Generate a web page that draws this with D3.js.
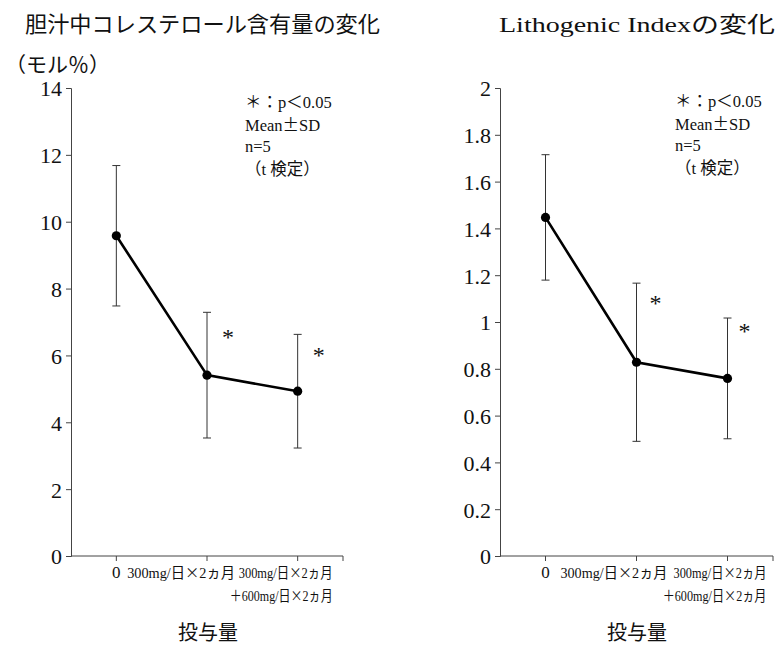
<!DOCTYPE html>
<html><head><meta charset="utf-8">
<script src="https://cdn.jsdelivr.net/npm/d3@7"></script>
<style>
html,body{margin:0;padding:0;background:#fff;}
svg text{font-family:"Liberation Serif","Noto Sans CJK JP",serif;fill:#111;}
</style></head>
<body><svg id="c" width="777" height="646"></svg>
<script>
// ---- data ----
const categories = ["0", "300mg/日×2ヵ月", "300mg/日×2ヵ月|＋600mg/日×2ヵ月"];
const cholMean = [9.58, 5.41, 4.93];
const cholSD = [2.1, 1.88, 1.7];
const cholTicks = [0, 2, 4, 6, 8, 10, 12, 14];
const cholStarY = [null, 6.67, 6.13];
const lithoMean = [1.447, 0.828, 0.759];
const lithoSD = [0.268, 0.338, 0.258];
const lithoTicks = [0, 0.2, 0.4, 0.6, 0.8, 1, 1.2, 1.4, 1.6, 1.8, 2];
const lithoStarY = [null, 1.098, 0.979];
const legendLines = ["＊：p＜0.05", "Mean±SD", "n=5", "（t 検定）"];
const xTitle = "投与量";

const svg = d3.select("#c");

// put non-ASCII characters into the CJK font so they render full-width
function richText(sel, str) {
  const runs = [];
  for (const ch of str) {
    const cjk = ch.charCodeAt(0) > 127;
    if (runs.length && runs[runs.length - 1].cjk === cjk) runs[runs.length - 1].t += ch;
    else runs.push({ cjk, t: ch });
  }
  runs.forEach(r => {
    const ts = sel.append("tspan").text(r.t);
    if (r.cjk) ts.style("font-family", '"Noto Sans CJK JP", sans-serif');
  });
  return sel;
}

function panel(o) {
  const g = svg.append("g");
  const x = d3.scalePoint().domain(categories).range([o.x0, o.x1]).padding(0.5);
  const y = d3.scaleLinear().domain([0, o.ticks[o.ticks.length - 1]]).range([556, 88]);

  // y axis
  const ya = g.append("g").attr("transform", `translate(${o.x0},0)`)
    .call(d3.axisLeft(y).tickValues(o.ticks).tickSize(5).tickPadding(4).tickFormat(d3.format("")));
  ya.select(".domain").attr("stroke", "#444");
  ya.selectAll(".tick line").attr("stroke", "#444");
  ya.selectAll(".tick text").style("font-size", "22px").attr("fill", "#111").attr("dy", "0.36em");

  // x axis
  const xa = g.append("g").attr("transform", `translate(0,556)`);
  xa.append("line").attr("x1", o.x0).attr("x2", o.x1).attr("stroke", "#444");
  const tickXs = categories.map(c => x(c)).concat([o.x1]);
  xa.selectAll("line.t").data(tickXs).enter().append("line").attr("class", "t")
    .attr("x1", d => d).attr("x2", d => d).attr("y1", 0).attr("y2", 5).attr("stroke", "#444");

  // category labels (condensed horizontally to the reference widths)
  const labG = g.append("g");
  categories.forEach((c, i) => {
    const parts = c.split("|");
    parts.forEach((p, j) => {
      if (i === 0) {
        labG.append("text").attr("x", x(c)).attr("y", 578).attr("text-anchor", "middle")
          .style("font-size", "17px").text(p);
      } else {
        const len = o.labLen[i][j];
        const t = labG.append("text").attr("x", 0).attr("y", 0).attr("text-anchor", "end")
          .style("font-size", "14.5px");
        richText(t, p);
        const w = t.node().getComputedTextLength();
        const sx = w > 0 ? len / w : 1;
        t.attr("transform", `translate(${x(c) + o.labShift[i]},${578 + j * 23}) scale(${sx.toFixed(3)},1)`);
      }
    });
  });

  // axis title
  g.append("text").attr("x", o.xTitleX).attr("y", 640).attr("text-anchor", "middle")
    .style("font-size", "20px").text(xTitle);

  // error bars
  const eb = g.append("g").attr("stroke", "#333").attr("stroke-width", 1);
  o.mean.forEach((m, i) => {
    const cx = x(categories[i]);
    eb.append("line").attr("x1", cx).attr("x2", cx).attr("y1", y(m - o.sd[i])).attr("y2", y(m + o.sd[i]));
    eb.append("line").attr("x1", cx - 4).attr("x2", cx + 4).attr("y1", y(m + o.sd[i])).attr("y2", y(m + o.sd[i]));
    eb.append("line").attr("x1", cx - 4).attr("x2", cx + 4).attr("y1", y(m - o.sd[i])).attr("y2", y(m - o.sd[i]));
  });

  // line
  g.append("path").datum(o.mean)
    .attr("d", d3.line().x((d, i) => x(categories[i])).y(d => y(d)))
    .attr("fill", "none").attr("stroke", "#000").attr("stroke-width", 2.6);
  g.selectAll("circle.p").data(o.mean).enter().append("circle")
    .attr("cx", (d, i) => x(categories[i])).attr("cy", d => y(d)).attr("r", 4.6).attr("fill", "#000");

  // significance stars
  o.star.forEach((s, i) => {
    if (s == null) return;
    g.append("text").attr("x", x(categories[i]) + o.starDx[i]).attr("y", y(s))
      .attr("dy", "0.5em").attr("text-anchor", "middle").style("font-size", "24px").attr("fill", "#444").text("*");
  });

  // legend
  legendLines.forEach((t, i) => {
    richText(g.append("text").attr("x", o.legX).attr("y", o.legY[i]).style("font-size", "16.5px"), t);
  });

  // title
  g.append("text").attr("x", o.titleX).attr("y", 32).style("font-size", "22px")
    .attr("textLength", o.titleLen).attr("lengthAdjust", "spacingAndGlyphs").text(o.title);
}

panel({
  x0: 71, x1: 343, mean: cholMean, sd: cholSD, ticks: cholTicks, star: cholStarY,
  starDx: [0, 21, 21], labShift: [0, 28, 35], labLen: [[0], [108], [94, 103]],
  xTitleX: 208, legX: 245, legY: [108, 131, 152, 175],
  title: "胆汁中コレステロール含有量の変化", titleX: 25, titleLen: 355
});
panel({
  x0: 500, x1: 773, mean: lithoMean, sd: lithoSD, ticks: lithoTicks, star: lithoStarY,
  starDx: [0, 19, 17], labShift: [0, 31, 39], labLen: [[0], [107], [93, 104]],
  xTitleX: 637, legX: 675, legY: [107, 130, 151, 174],
  title: "Lithogenic Indexの変化", titleX: 499, titleLen: 276
});

svg.append("text").attr("x", 5).attr("y", 72).style("font-size", "21px").text("（モル％）");
</script></body></html>
